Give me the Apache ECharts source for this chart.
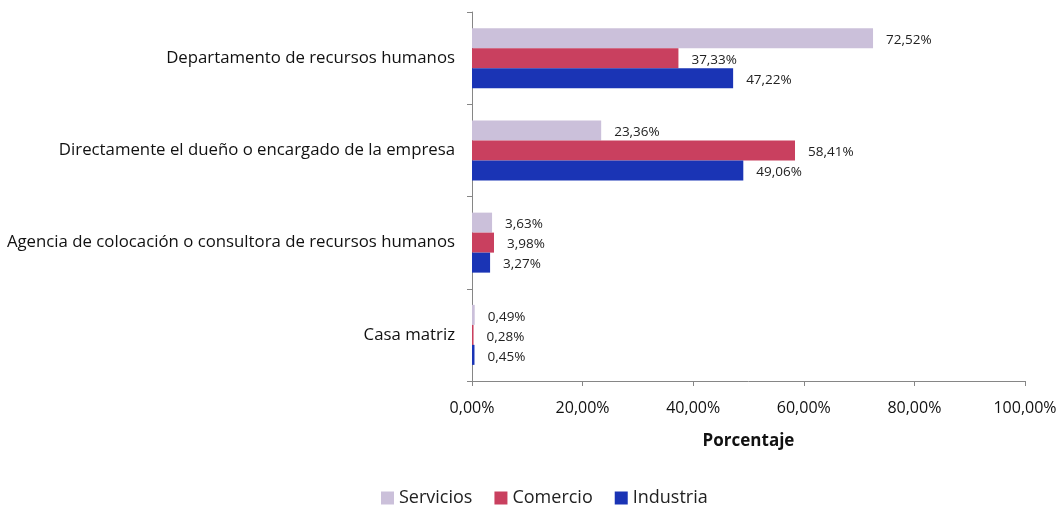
<!DOCTYPE html>
<html>
<head>
<meta charset="utf-8">
<script src="https://cdn.jsdelivr.net/npm/echarts@6/dist/echarts.min.js"></script>
<style>
  html,body{margin:0;padding:0;background:#fff}
  #chart{width:1061px;height:509px}
</style>
</head>
<body>
<div id="chart"></div>
<script>
const categories = [
  'Departamento de recursos humanos',
  'Directamente el dueño o encargado de la empresa',
  'Agencia de colocación o consultora de recursos humanos',
  'Casa matriz'
]
const servicios = [72.52, 23.36, 3.63, 0.49]
const comercio = [37.33, 58.41, 3.98, 0.28]
const industria = [47.22, 49.06, 3.27, 0.45]
const seriesNames = ['Servicios', 'Comercio', 'Industria']
const colors = ['#CBC0DA', '#C9405F', '#1A34B5']

const fontFamily = '"Open Sans", "Noto Sans", sans-serif'
const fmt = v => v.toFixed(2).replace('.', ',') + '%'

const chart = echarts.init(document.getElementById('chart'))

const makeSeries = (name, data, i) => ({
  name,
  type: 'bar',
  data,
  barWidth: 20,
  barGap: '0%',
  itemStyle: {color: colors[i]},
  label: {
    show: true,
    position: 'right',
    distance: 13,
    offset: [0, 2],
    color: '#222',
    fontSize: 13.5,
    fontFamily,
    formatter: p => fmt(p.value)
  }
})

chart.setOption({
  animation: false,
  grid: {left: 472, right: 36, top: 12, bottom: 128},
  legend: {
    top: 484,
    left: 376,
    itemWidth: 13,
    itemHeight: 13,
    itemGap: 22,
    icon: 'rect',
    textStyle: {fontSize: 18, color: '#222', fontFamily},
    data: seriesNames
  },
  xAxis: {
    type: 'value',
    min: 0,
    max: 100,
    interval: 20,
    name: 'Porcentaje',
    nameLocation: 'middle',
    nameGap: 52,
    nameTextStyle: {fontSize: 17, fontWeight: 'bold', color: '#111', fontFamily},
    axisLine: {show: true, lineStyle: {color: '#868686'}},
    axisTick: {show: true, length: 5, lineStyle: {color: '#868686'}},
    splitLine: {show: false},
    axisLabel: {
      fontSize: 16,
      color: '#111',
      margin: 19,
      fontFamily,
      formatter: v => v.toFixed(2).replace('.', ',') + '%'
    }
  },
  yAxis: {
    type: 'category',
    inverse: true,
    data: categories,
    axisLine: {show: true, lineStyle: {color: '#868686'}},
    axisTick: {show: true, length: 5, lineStyle: {color: '#868686'}},
    axisLabel: {fontSize: 16.8, color: '#111', margin: 17, fontFamily}
  },
  series: [
    makeSeries(seriesNames[0], servicios, 0),
    makeSeries(seriesNames[1], comercio, 1),
    makeSeries(seriesNames[2], industria, 2)
  ]
})
</script>
</body>
</html>
